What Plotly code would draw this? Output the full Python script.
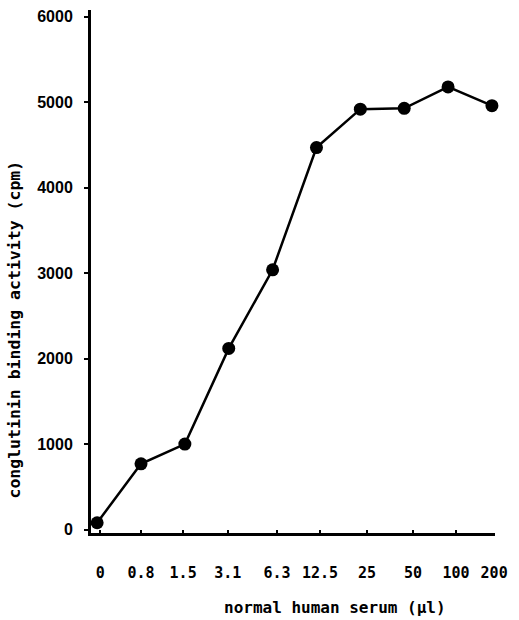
import plotly.graph_objects as go

# Data
doses = ["0", "0.8", "1.5", "3.1", "6.3", "12.5", "25", "50", "100", "200"]
activity = [80, 770, 1000, 2120, 3040, 4470, 4920, 4930, 5180, 4960]

x_pos = list(range(len(doses)))
# label positions as printed (slight drift in the original print)
label_pos = [0.07, 1.0, 1.96, 2.98, 4.1, 5.08, 6.15, 7.2, 8.18, 9.05]

y_ticks = [0, 1000, 2000, 3000, 4000, 5000, 6000]

x_title = "normal human serum (μl)"
y_title = "conglutinin binding activity (cpm)"

fig = go.Figure()
fig.add_trace(go.Scatter(
    x=x_pos, y=activity, mode="lines+markers",
    line=dict(color="black", width=2.5),
    marker=dict(color="black", size=13),
    showlegend=False, cliponaxis=False,
))

mono = "DejaVu Sans Mono"
fig.update_layout(
    width=519, height=620,
    margin=dict(l=91, r=24, t=8, b=87),
    paper_bgcolor="white", plot_bgcolor="white",
    xaxis=dict(
        range=[-0.14, 9.07], tickmode="array", tickvals=label_pos, ticktext=doses,
        showline=True, linecolor="black", linewidth=3, showgrid=False, zeroline=False,
        ticks="inside", ticklen=3, tickwidth=2, tickcolor="black",
        tickfont=dict(family=mono, size=15, color="black", weight="bold"),
        ticklabelstandoff=24,
    ),
    yaxis=dict(
        range=[-40, 6080], tickmode="array", tickvals=y_ticks,
        ticktext=[str(v) for v in y_ticks],
        showline=True, linecolor="black", linewidth=3, showgrid=False, zeroline=False,
        ticks="outside", ticklen=4, tickwidth=2, tickcolor="black",
        tickfont=dict(family="Liberation Sans", size=16, color="black", weight="bold"),
        ticklabelstandoff=8,
    ),
)

fig.add_annotation(
    text=x_title, xref="paper", yref="paper", x=0.604, y=0, yshift=-74,
    xanchor="center", yanchor="middle", showarrow=False,
    font=dict(family=mono, size=16, color="black", weight="bold"),
)
fig.add_annotation(
    text=y_title, xref="paper", yref="paper", x=0, y=0.389, xshift=-76,
    xanchor="center", yanchor="middle", textangle=-90, showarrow=False,
    font=dict(family=mono, size=16.5, color="black", weight="bold"),
)

fig.write_html("out.html")
